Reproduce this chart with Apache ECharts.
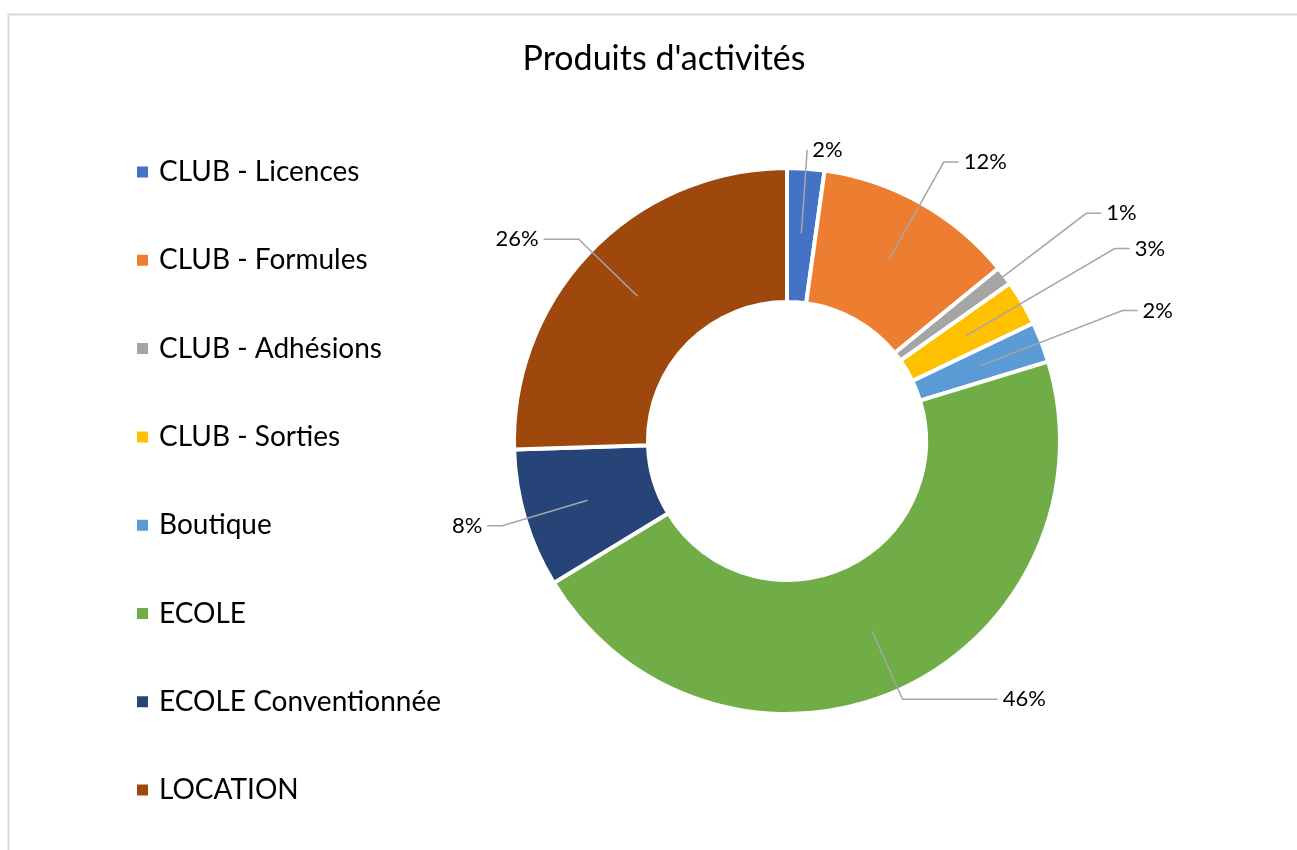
<!DOCTYPE html>
<html>
<head>
<meta charset="utf-8">
<script src="https://cdn.jsdelivr.net/npm/echarts@6/dist/echarts.min.js"></script>
<style>
  html, body { margin: 0; padding: 0; background: #fff; }
  #chart { width: 1297px; height: 850px; }
</style>
</head>
<body>
<div id="chart"></div>
<script>
const categories = ['CLUB - Licences', 'CLUB - Formules', 'CLUB - Adhésions', 'CLUB - Sorties',
  'Boutique', 'ECOLE', 'ECOLE Conventionnée', 'LOCATION'];
const shares = [2.2, 11.9, 1.1, 2.7, 2.4, 46.0, 8.2, 25.5];
const colors = ['#4472C4', '#ED7D31', '#A5A5A5', '#FFC000', '#5B9BD5', '#70AD47', '#264478', '#9E480E'];

// leader line segment lengths (px), per slice
const leaderLen = [84, 112, 168, 172, 152, 75, 89, 82];
const leaderLen2 = [0, 15, 15, 15, 15, 95, 15, 35];

const FONT = 'Lato';
const chart = echarts.init(document.getElementById('chart'));

const sliceData = categories.map((name, i) => ({ name: name, value: shares[i] }));
const labelData = categories.map((name, i) => ({
  name: name,
  value: shares[i],
  labelLine: { length: leaderLen[i], length2: leaderLen2[i] }
}));

const option = {
  animation: false,
  color: colors,
  title: {
    text: "Produits d'activités",
    left: 659,
    textAlign: 'center',
    top: 37,
    textStyle: { fontFamily: FONT, fontSize: 34, fontWeight: 'normal', color: '#000' }
  },
  legend: {
    orient: 'vertical',
    left: 135,
    top: 158,
    padding: 0,
    itemWidth: 13,
    itemHeight: 13,
    itemGap: 60.3,
    icon: 'rect',
    textStyle: { fontFamily: FONT, fontSize: 28, color: '#000', padding: [0, 0, 0, 5] },
    data: categories
  },
  graphic: [{
    type: 'rect',
    shape: { x: 8.5, y: 14.5, width: 1400, height: 900 },
    style: { fill: 'none', stroke: '#d9d9d9', lineWidth: 2 },
    silent: true
  }],
  series: [
    {
      type: 'pie',
      center: [787, 441],
      radius: [139, 273],
      startAngle: 90,
      clockwise: true,
      itemStyle: { borderColor: '#fff', borderWidth: 4 },
      label: { show: false },
      labelLine: { show: false },
      data: sliceData
    },
    {
      // transparent overlay so leader lines start in the middle of the ring
      type: 'pie',
      z: 5,
      center: [787, 441],
      radius: [0, 208],
      startAngle: 90,
      clockwise: true,
      silent: true,
      avoidLabelOverlap: false,
      itemStyle: { color: 'rgba(0,0,0,0)' },
      label: {
        show: true,
        position: 'outside',
        fontFamily: FONT,
        fontSize: 22,
        color: '#000',
        formatter: p => Math.round(p.percent) + '%'
      },
      labelLine: {
        show: true,
        lineStyle: { color: '#a6a6a6', width: 1.5 }
      },
      data: labelData
    }
  ]
};

chart.setOption(option);
</script>
</body>
</html>
